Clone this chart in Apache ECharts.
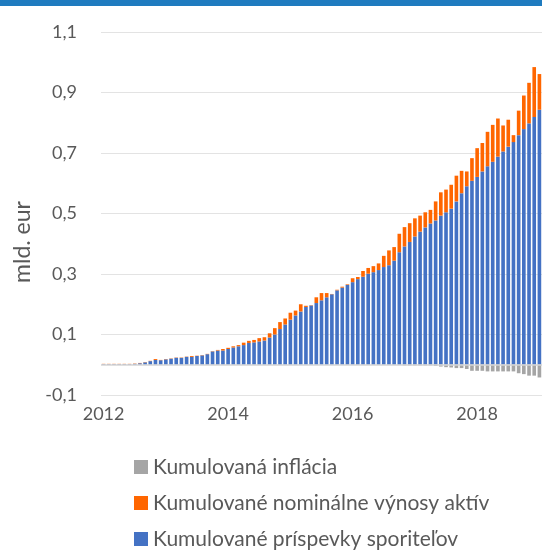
<!DOCTYPE html>
<html>
<head>
<meta charset="utf-8">
<script src="https://cdn.jsdelivr.net/npm/echarts@6/dist/echarts.min.js"></script>
<style>
	html, body { margin: 0; padding: 0; background: #fff; }
	#graf { width: 542px; height: 550px; }
</style>
</head>
<body>
<div id="graf"></div>
<script>
// mesiace od 01/2012 po 01/2019
const roky = [2012, 2013, 2014, 2015, 2016, 2017, 2018, 2019];
const mesiace = [];
roky.forEach(r => {
	for (let m = 1; m <= 12; m++) {
		if (mesiace.length < 85) mesiace.push(r + '-' + String(m).padStart(2, '0'));
	}
});

// Kumulované príspevky sporiteľov (mld. eur)
const prispevky = [
	0.002, 0.002, 0.002, 0.002, 0.002, 0.002, 0.003, 0.005, 0.008, 0.012,
	0.016, 0.015, 0.018, 0.020, 0.023, 0.023, 0.026, 0.026, 0.029, 0.031,
	0.035, 0.044, 0.047, 0.047, 0.052, 0.057, 0.061, 0.065, 0.072, 0.074,
	0.077, 0.080, 0.090, 0.100, 0.118, 0.133, 0.149, 0.163, 0.176, 0.191,
	0.196, 0.204, 0.213, 0.223, 0.233, 0.246, 0.255, 0.264, 0.273, 0.283,
	0.291, 0.301, 0.306, 0.313, 0.323, 0.329, 0.344, 0.372, 0.391, 0.406,
	0.424, 0.440, 0.454, 0.467, 0.477, 0.493, 0.504, 0.516, 0.540, 0.567,
	0.590, 0.608, 0.621, 0.639, 0.656, 0.671, 0.688, 0.705, 0.721, 0.736,
	0.759, 0.779, 0.798, 0.819, 0.843
];

// Kumulované nominálne výnosy aktív
const vynosy = [
	0.001, 0.001, 0.001, 0.001, 0.001, 0.001, 0.001, 0.001, 0.001, 0.001,
	0.003, 0.001, 0.001, 0.001, 0.001, 0.001, 0.001, 0.003, 0.001, 0.001,
	0.001, 0.001, 0.002, 0.005, 0.004, 0.004, 0.004, 0.008, 0.007, 0.008,
	0.011, 0.011, 0.014, 0.021, 0.023, 0.020, 0.023, 0.016, 0.024, 0.004,
	0.001, 0.019, 0.024, 0.014, 0.001, 0.002, 0.003, 0.002, 0.013, 0.007,
	0.019, 0.019, 0.020, 0.022, 0.037, 0.049, 0.045, 0.061, 0.064, 0.062,
	0.060, 0.053, 0.050, 0.045, 0.063, 0.077, 0.075, 0.079, 0.085, 0.074,
	0.049, 0.075, 0.095, 0.094, 0.114, 0.122, 0.126, 0.086, 0.089, 0.023,
	0.081, 0.111, 0.134, 0.165, 0.118
];

// Kumulovaná inflácia
const inflacia = [
	0, 0, 0, 0, 0, 0, 0, 0, 0, 0,
	0, 0, 0, 0, 0, 0, 0, 0, 0, 0,
	0, 0, 0, 0, 0, 0, 0, 0, 0, 0,
	0, 0, 0, 0, 0, 0, 0, 0, 0, 0,
	0, 0, 0, 0, 0, 0, 0, 0, 0, 0,
	0, 0, 0, 0, 0, 0, 0, 0, -0.002, -0.002,
	-0.002, -0.002, -0.002, -0.002, -0.004, -0.006, -0.008, -0.009, -0.011, -0.011,
	-0.014, -0.020, -0.020, -0.020, -0.022, -0.022, -0.022, -0.022, -0.022, -0.022,
	-0.028, -0.031, -0.036, -0.036, -0.042
];

const font = 'Lato';
const sivaText = '#595959';

const graf = echarts.init(document.getElementById('graf'));

const option = {
	animation: false,
	textStyle: { fontFamily: font },
	graphic: [
		{
			type: 'rect',
			shape: { x: 0, y: 0, width: 542, height: 6 },
			style: { fill: '#1f7bbf' }
		},
		{
			type: 'text',
			x: 23, y: 242,
			rotation: Math.PI / 2,
			style: {
				text: 'mld. eur',
				fill: sivaText,
				font: '23px ' + font,
				align: 'center',
				verticalAlign: 'middle'
			}
		}
	],
	grid: { left: 101, top: 32, width: 442, height: 363 },
	legend: {
		orient: 'vertical',
		left: 134,
		top: 456,
		height: 140,
		padding: 0,
		itemWidth: 14,
		itemHeight: 14,
		itemGap: 14,
		icon: 'rect',
		data: ['Kumulovaná inflácia', 'Kumulované nominálne výnosy aktív', 'Kumulované príspevky sporiteľov'],
		textStyle: { color: sivaText, fontSize: 21, lineHeight: 22, fontFamily: font }
	},
	xAxis: {
		type: 'category',
		data: mesiace,
		axisLine: { show: false, onZero: false },
		axisTick: { show: false },
		axisLabel: {
			interval: 23,
			color: sivaText,
			fontSize: 18,
			margin: 10,
			formatter: v => v.slice(0, 4)
		}
	},
	yAxis: {
		type: 'value',
		min: -0.1,
		max: 1.1,
		interval: 0.2,
		axisLine: { show: false },
		axisTick: { show: false },
		axisLabel: {
			color: sivaText,
			fontSize: 18,
			margin: 24,
			formatter: v => v.toFixed(1).replace('.', ',')
		},
		splitLine: { lineStyle: { color: '#e3e3e3', width: 1 } }
	},
	series: [
		{
			name: 'Kumulované príspevky sporiteľov',
			type: 'bar',
			stack: 'a',
			data: prispevky,
			barCategoryGap: '30%',
			itemStyle: { color: '#4472c4' },
			markLine: {
				silent: true,
				symbol: 'none',
				label: { show: false },
				lineStyle: { color: '#d4d4d4', width: 1.5, type: 'solid' },
				data: [{ yAxis: 0 }]
			}
		},
		{
			name: 'Kumulované nominálne výnosy aktív',
			type: 'bar',
			stack: 'a',
			data: vynosy,
			itemStyle: { color: '#ff6600' }
		},
		{
			name: 'Kumulovaná inflácia',
			type: 'bar',
			stack: 'a',
			data: inflacia,
			itemStyle: { color: '#a5a5a5' }
		}
	]
};

graf.setOption(option);
</script>
</body>
</html>
